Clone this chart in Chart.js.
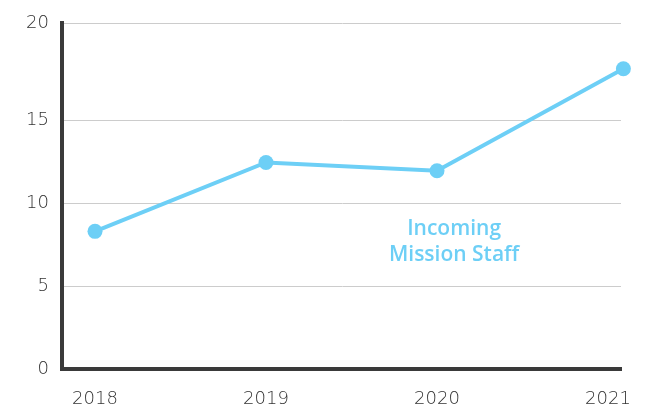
<!DOCTYPE html>
<html>
<head>
<meta charset="utf-8">
<script src="https://cdn.jsdelivr.net/npm/chart.js@4/dist/chart.umd.min.js"></script>
<style>
  html, body { margin: 0; padding: 0; background: #ffffff; }
  #wrap { width: 645px; height: 414px; }
</style>
</head>
<body>
<div id="wrap"><canvas id="c" width="645" height="414"></canvas></div>
<script>
// Data
const years = [2018, 2019, 2020, 2021];
const yearPositions = [2018, 2019, 2020, 2021.09];
const staff = [8.3, 12.45, 11.95, 18.1];
const xTickLabels = ['2018', '2019', '2020', '2021'];
const yTickValues = [0, 5, 10, 15, 20.86];
const yTickLabels = ['0', '5', '10', '15', '20'];
const seriesLabel = ['Incoming', 'Mission Staff'];

const LINE = '#6dcff6';
const AXIS = '#3a3a3a';
const TEXT = '#333333';
const FONT = "'DejaVu Sans', sans-serif";

const labelPlugin = {
  id: 'seriesLabel',
  afterDatasetsDraw(chart) {
    const { ctx, scales } = chart;
    const cx = scales.x.getPixelForValue(2020.1);
    const cy = scales.y.getPixelForValue(8.45);
    ctx.save();
    ctx.fillStyle = LINE;
    ctx.font = "600 21px 'Open Sans', sans-serif";
    ctx.textAlign = 'center';
    ctx.textBaseline = 'middle';
    seriesLabel.forEach((t, i) => ctx.fillText(t, cx, cy + i * 26));
    ctx.restore();
  }
};

new Chart(document.getElementById('c'), {
  type: 'line',
  data: {
    datasets: [{
      data: yearPositions.map((x, i) => ({ x: x, y: staff[i] })),
      borderColor: LINE,
      backgroundColor: LINE,
      borderWidth: 4,
      pointRadius: 7.5,
      pointBorderWidth: 0,
      pointBackgroundColor: LINE,
      tension: 0,
      clip: false
    }]
  },
  options: {
    responsive: false,
    animation: false,
    devicePixelRatio: 1,
    layout: { padding: { top: 23, right: 24, left: 0, bottom: 0 } },
    plugins: { legend: { display: false }, tooltip: { enabled: false } },
    scales: {
      x: {
        type: 'linear',
        min: 2017.807,
        max: 2021.076,
        afterBuildTicks: (s) => { s.ticks = years.map(v => ({ value: v })); },
        afterFit: (s) => { s.height = 45; s.paddingLeft = 0; s.paddingRight = 0; },
        ticks: {
          callback: (v, i) => xTickLabels[i],
          color: TEXT,
          font: { family: FONT, size: 18, weight: '200' },
          padding: 20,
          maxRotation: 0,
          autoSkip: false
        },
        grid: { display: false, drawTicks: false },
        border: { display: true, color: AXIS, width: 4 }
      },
      y: {
        type: 'linear',
        min: 0,
        max: 20.86,
        afterBuildTicks: (s) => { s.ticks = yTickValues.map(v => ({ value: v })); },
        afterFit: (s) => { s.width = 62; s.paddingTop = 0; s.paddingBottom = 0; },
        ticks: {
          callback: (v, i) => yTickLabels[i],
          color: TEXT,
          font: { family: FONT, size: 18, weight: '200' },
          padding: 13
        },
        grid: { color: '#cccccc', lineWidth: 1, drawTicks: false },
        border: { display: true, color: AXIS, width: 4 }
      }
    }
  },
  plugins: [labelPlugin]
});
</script>
</body>
</html>
